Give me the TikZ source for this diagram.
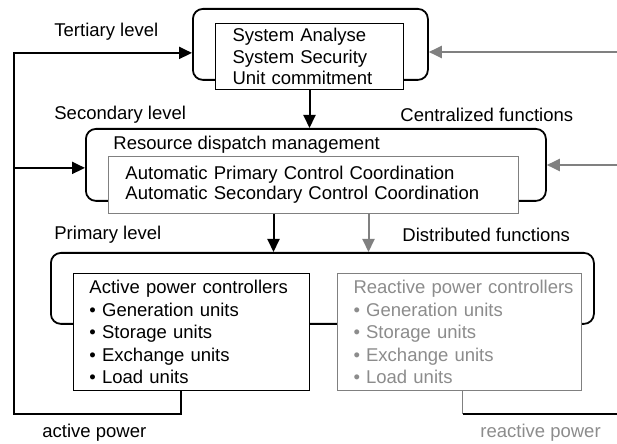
\documentclass[tikz,border=0pt]{standalone}
\usepackage{fontspec}
\setmainfont{Liberation Sans}
\usetikzlibrary{arrows.meta}

\begin{document}
\begin{tikzpicture}[
        x=0.5pt, y=-0.5pt,
        every node/.style={font=\fontsize{9.25}{11}\selectfont},
        % rounded frame of one control level
        level/.style={rectangle, draw, line width=0.9pt, rounded corners=5pt, anchor=north west},
        % function boxes inside the frames
        func/.style={rectangle, draw, line width=0.5pt, fill=white, anchor=north west, align=left, inner xsep=8.5pt, inner ysep=1pt},
        % reactive (gray) parts
        faded/.style={draw=black!50, text=black!45},
        % free text labels
        lbl/.style={anchor=west, inner sep=0pt},
        % arrows
        arrow/.style={-{Triangle[length=6.5pt, width=6pt]}, line width=1pt}
    ]

    \useasboundingbox (0,0) rectangle (617,444);

    % level frames
    \node[level, minimum width=117.5pt, minimum height=35.5pt] (tert) at (192,8) {};
    \node[level, minimum width=230pt, minimum height=36pt] (sec) at (85,128) {};
    \node[level, minimum width=271.5pt, minimum height=35.5pt] (prim) at (50,252) {};

    % function boxes
    \node[func, text width=77pt, minimum height=33pt, font=\fontsize{9.25}{10.75}\selectfont] (terbox) at (215,23) {System Analyse\\System Security\\Unit commitment};
    \node[func, draw=black!50, text width=188pt, minimum height=28.5pt, font=\fontsize{9.25}{10}\selectfont] (secbox) at (108,156) {Automatic Primary Control Coordination\\Automatic Secondary Control Coordination};
    \node[func, inner xsep=8pt, text width=102pt, minimum height=58.5pt, font=\fontsize{9.25}{11.25}\selectfont] (act) at (73,273) {Active power controllers\\\textbullet\ Generation units\\\textbullet\ Storage units\\\textbullet\ Exchange units\\\textbullet\ Load units};
    \node[func, faded, inner xsep=8pt, text width=106pt, minimum height=58.5pt, font=\fontsize{9.25}{11.25}\selectfont] (react) at (337,273) {\mbox{Reactive power controllers}\\\textbullet\ Generation units\\\textbullet\ Storage units\\\textbullet\ Exchange units\\\textbullet\ Load units};

    % labels
    \node[lbl] (tertl) at (54,32) {Tertiary level};
    \node[lbl] (secl) at (54,115) {Secondary level};
    \node[lbl] (cenl) at (400,115) {Centralized functions};
    \node[lbl] (rdm) at (113,145) {Resource dispatch management};
    \node[lbl] (priml) at (54,235) {Primary level};
    \node[lbl] (distl) at (402,235) {Distributed functions};
    \node[lbl] (apl) at (42,433) {active power};
    \node[lbl, text=black!45] (rpl) at (480,433) {reactive power};

    % downward arrows
    \draw[arrow] (terbox.south) -- (terbox.south |- sec.north);
    \draw[arrow] ([xshift=-20pt]secbox.south) -- ([xshift=-20pt]secbox.south |- prim.north);
    \draw[arrow, black!50] ([xshift=27.5pt]secbox.south) -- ([xshift=27.5pt]secbox.south |- prim.north);

    % active power feedback (left)
    \coordinate (actout) at ([xshift=-5.5pt]act.south);
    \coordinate (fbend) at (14,414);
    \coordinate (secin) at ([yshift=-1.5pt]sec.west);
    \draw[arrow] (actout) |- (fbend) |- ([yshift=-4.25pt]tert.west);
    \draw[arrow] (fbend |- secin) -- (secin);

    % inputs from the right
    \coordinate (tin) at (617,52);
    \coordinate (sin) at (617,165);
    \draw[arrow, black!50] (tin) -- (tin -| tert.east);
    \draw[arrow, black!50] (sin) -- (sin -| sec.east);

    % reactive power output (right)
    \coordinate (rpend) at (617,414);
    \coordinate (rpout) at ([xshift=1.5pt]react.south);
    \draw[black!50, line width=0.8pt] (rpout) -- (rpout |- rpend);
    \draw[line width=1pt] (rpout |- rpend) -- (rpend);

\end{tikzpicture}
\end{document}
